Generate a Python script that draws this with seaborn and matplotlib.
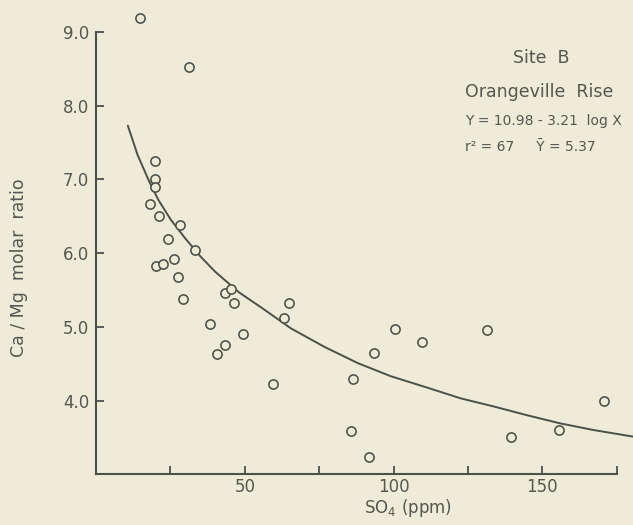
import matplotlib
matplotlib.use("Agg")
import matplotlib.pyplot as plt
import seaborn as sns
import pandas as pd

# ---- data ----
so4 = [14.9, 31.1, 19.9, 19.9, 19.9, 18.1, 21.3, 28.2, 24.3, 33.3,
       20.1, 22.4, 26.1, 27.4, 29.4, 38.3, 40.5, 43.4, 43.4, 45.3,
       46.4, 49.4, 59.4, 63.2, 65.0, 100.5, 109.7, 93.5, 86.4, 85.6,
       91.6, 131.5, 139.4, 155.6, 170.7]
ca_mg = [9.19, 8.52, 7.25, 7.01, 6.90, 6.66, 6.50, 6.38, 6.19, 6.04,
         5.82, 5.85, 5.92, 5.67, 5.38, 5.04, 4.63, 4.76, 5.46, 5.51,
         5.33, 4.90, 4.22, 5.12, 5.33, 4.97, 4.80, 4.65, 4.29, 3.59,
         3.23, 4.96, 3.50, 3.60, 4.00]

# fitted curve as drawn
curve_x = [10.7, 14.0, 17.9, 21.0, 25.2, 30.0, 35.0, 40.0, 48.0, 56.0,
           65.5, 76.7, 87.9, 99.1, 110.2, 122.6, 133.7, 145.0, 156.1, 167.3, 180.7]
curve_y = [7.73, 7.33, 6.97, 6.72, 6.45, 6.20, 5.96, 5.75, 5.47, 5.25,
           4.98, 4.73, 4.51, 4.33, 4.19, 4.03, 3.92, 3.80, 3.69, 3.60, 3.51]

x_ticks = [25, 50, 75, 100, 125, 150, 175]
x_tick_labels = ["", "50", "", "100", "", "150", ""]
y_ticks = [4.0, 5.0, 6.0, 7.0, 8.0, 9.0]
y_tick_labels = ["4.0", "5.0", "6.0", "7.0", "8.0", "9.0"]

title_lines = ["Site  B", "Orangeville  Rise", "Y = 10.98 - 3.21  log X", "r² = 67     Ȳ = 5.37"]

# ---- style ----
bg = "#eeebd8"
ink = "#4c5147"
txt = "#55584f"

sns.set_style("ticks")
plt.rcParams["font.family"] = ["DejaVu Sans"]

fig = plt.figure(figsize=(6.33, 5.25), dpi=100, facecolor=bg)
ax = fig.add_axes([96 / 633, 1 - 474.3 / 525, 520.7 / 633, 442.3 / 525])
ax.set_facecolor(bg)

pts = pd.DataFrame({"so4": so4, "ratio": ca_mg})
crv = pd.DataFrame({"x": curve_x, "y": curve_y})

sns.lineplot(data=crv, x="x", y="y", sort=False, color=ink, linewidth=1.4,
             ax=ax, clip_on=False, zorder=2)
sns.scatterplot(data=pts, x="so4", y="ratio", marker="o", s=44,
                facecolor=bg, edgecolor=ink, linewidth=1.15,
                ax=ax, clip_on=False, zorder=3)

ax.set_xlim(0, 175)
ax.set_ylim(3.0, 9.0)

for s in ["top", "right"]:
    ax.spines[s].set_visible(False)
for s in ["left", "bottom"]:
    ax.spines[s].set_color(ink)
    ax.spines[s].set_linewidth(1.5)

ax.set_xticks(x_ticks)
ax.set_xticklabels(x_tick_labels)
ax.set_yticks(y_ticks)
ax.set_yticklabels(y_tick_labels)
ax.tick_params(axis="both", direction="in", length=6, width=1.3, color=ink,
               labelcolor=txt, labelsize=12)
ax.tick_params(axis="x", pad=3)
ax.tick_params(axis="y", pad=5)

ax.set_xlabel("SO$_4$ (ppm)", fontsize=12, color=txt)
ax.xaxis.label.set_va("center")
ax.xaxis.set_label_coords((408 - 96) / 520.7, -(508 - 474.3) / 442.3)
ax.set_ylabel("Ca / Mg  molar  ratio", fontsize=12.5, color=txt)
ax.yaxis.label.set_va("center")
ax.yaxis.set_label_coords((19 - 96) / 520.7, (474.3 - 268) / 442.3)

fig.text(541 / 633, 1 - 58 / 525, title_lines[0], ha="center", va="center",
         fontsize=12.5, color=txt)
fig.text(465 / 633, 1 - 92 / 525, title_lines[1], ha="left", va="center",
         fontsize=12.5, color=txt)
fig.text(465 / 633, 1 - 121 / 525, title_lines[2], ha="left", va="center",
         fontsize=10, color=txt)
fig.text(465 / 633, 1 - 147 / 525, title_lines[3], ha="left", va="center",
         fontsize=10, color=txt)

fig.savefig("out.png", dpi=100, facecolor=bg)
